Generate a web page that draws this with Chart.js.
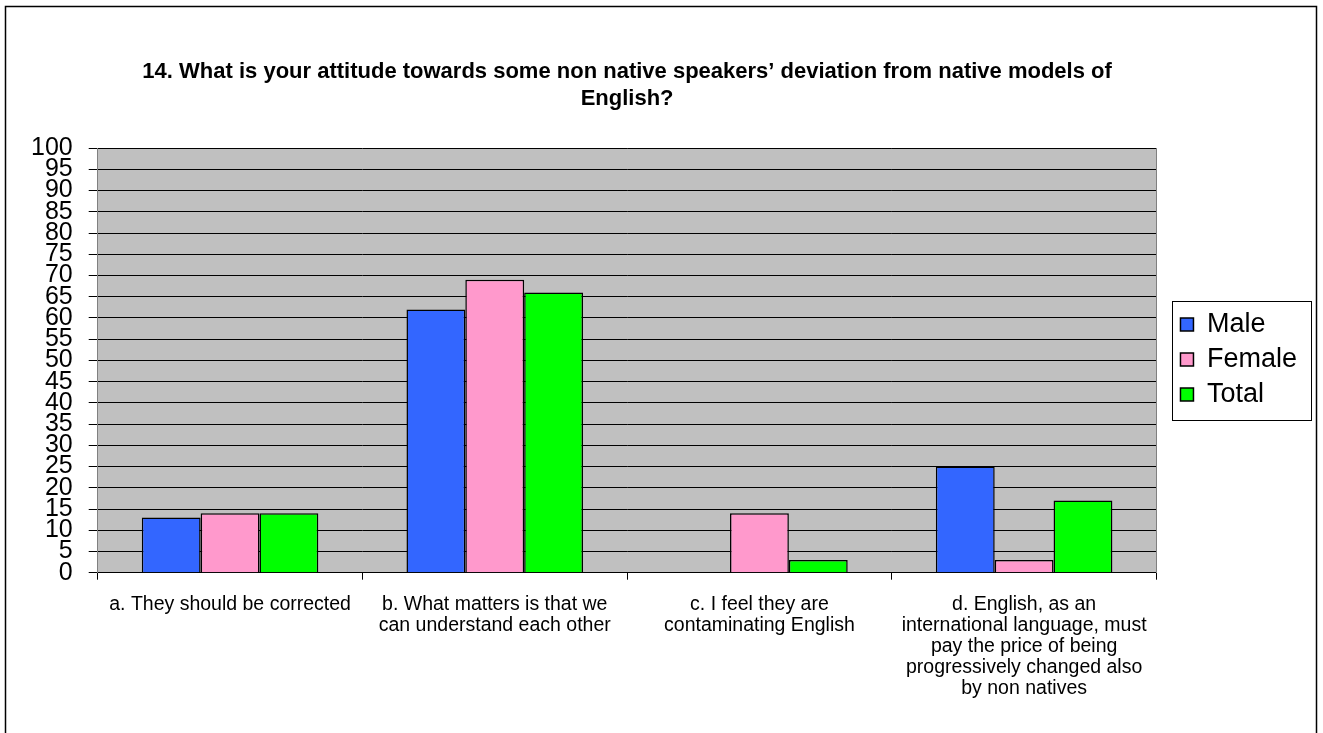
<!DOCTYPE html>
<html>
<head>
<meta charset="utf-8">
<script src="https://cdn.jsdelivr.net/npm/chart.js@4.4.1/dist/chart.umd.min.js"></script>
<style>
  html, body { margin: 0; padding: 0; background: #fff; }
  #wrap { width: 1323px; height: 733px; }
</style>
</head>
<body>
<div id="wrap"><canvas id="attitudeChart" width="1323" height="733"></canvas></div>
<script>
// data
const titleLines = [
  '14. What is your attitude towards some non native speakers\u2019 deviation from native models of',
  'English?'
];
const categories = [
  ['a. They should be corrected'],
  ['b. What matters is that we', 'can understand each other'],
  ['c. I feel they are', 'contaminating English'],
  ['d. English, as an', 'international language, must', 'pay the price of being', 'progressively changed also', 'by non natives']
];
const male = [13, 62, 0, 25];
const female = [14, 69, 14, 3];
const total = [14, 66, 3, 17];
const seriesNames = ['Male', 'Female', 'Total'];
const seriesColors = ['#3366FF', '#FF99CC', '#00FF00'];

const FONT = "'Liberation Sans', Arial, sans-serif";

// grey plot background + outer frame + legend frame
const decorations = {
  id: 'decorations',
  beforeDraw(chart) {
    const { ctx, chartArea: a } = chart;
    ctx.save();
    ctx.fillStyle = '#C0C0C0';
    ctx.fillRect(a.left, a.top, a.right - a.left, a.bottom - a.top);
    ctx.restore();
  },
  afterDraw(chart) {
    const ctx = chart.ctx;
    ctx.save();
    ctx.strokeStyle = '#000';
    ctx.lineWidth = 1.5;
    ctx.strokeRect(5.5, 6.5, 1311, 760);

    const lg = chart.legend;
    const boxes = lg.legendHitBoxes || [];
    if (boxes.length) {
      const top = Math.min(...boxes.map(b => b.top));
      const bottom = Math.max(...boxes.map(b => b.top + b.height));
      const left = Math.round(lg.left) + 0.5;
      ctx.lineWidth = 1;
      ctx.strokeStyle = '#000';
      ctx.strokeRect(left, Math.round(top - 10) + 0.5, 1311.5 - left, Math.round(bottom - top + 22));
    }
    ctx.restore();
  }
};

new Chart(document.getElementById('attitudeChart'), {
  type: 'bar',
  data: {
    labels: categories,
    datasets: [
      { label: seriesNames[0], data: male, backgroundColor: seriesColors[0] },
      { label: seriesNames[1], data: female, backgroundColor: seriesColors[1] },
      { label: seriesNames[2], data: total, backgroundColor: seriesColors[2] }
    ].map(d => ({ ...d, borderColor: '#000', borderWidth: 1.5, yAxisID: 'y' }))
  },
  options: {
    responsive: false,
    animation: false,
    devicePixelRatio: 1,
    layout: { padding: { left: 15, right: 16, top: 6, bottom: 20 } },
    datasets: { bar: { categoryPercentage: 0.667, barPercentage: 1 } },
    plugins: {
      title: {
        display: true,
        fullSize: false,
        text: titleLines,
        color: '#000',
        font: { family: FONT, size: 22, weight: 'bold', lineHeight: 1.23 },
        padding: { top: 52, bottom: 36 }
      },
      legend: {
        position: 'right',
        labels: {
          color: '#000',
          font: { family: FONT, size: 27 },
          boxWidth: 13,
          boxHeight: 13,
          padding: 8
        }
      },
      tooltip: { enabled: false }
    },
    scales: {
      x: {
        grid: { drawOnChartArea: false, tickLength: 7, color: '#000' },
        border: { color: '#000' },
        ticks: {
          color: '#000',
          maxRotation: 0,
          autoSkip: false,
          padding: 14,
          font: { family: FONT, size: 19.5, lineHeight: 1.08 }
        }
      },
      y: {
        min: 0,
        max: 100,
        grid: { color: '#000', tickLength: 9 },
        border: { color: '#808080' },
        ticks: {
          stepSize: 5,
          autoSkip: false,
          color: '#000',
          padding: 16,
          font: { family: FONT, size: 25, lineHeight: 1 }
        }
      },
      yRight: {
        position: 'right',
        min: 0,
        max: 100,
        grid: { drawOnChartArea: false, drawTicks: false },
        border: { color: '#808080' },
        ticks: { display: false },
        afterFit(scale) { scale.width = 16; }
      }
    }
  },
  plugins: [decorations]
});
</script>
</body>
</html>
